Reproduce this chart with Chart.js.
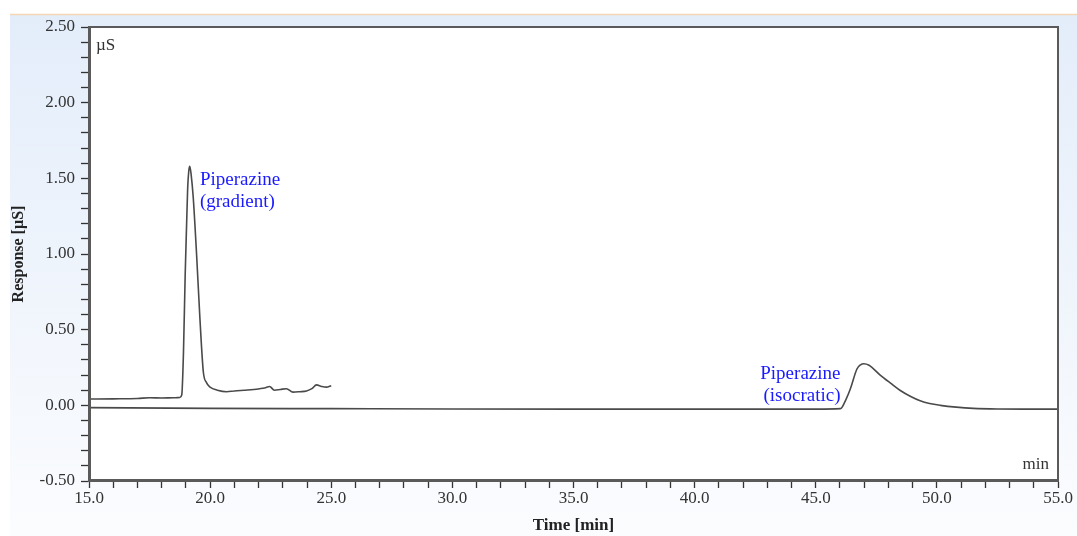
<html>
<head>
<style>
    body { margin: 0; background: #ffffff; }
    #wrap { width: 1077px; height: 536px; }
</style>
</head>
<body>
<div id="wrap">
    <canvas id="chromChart" width="1077" height="536"></canvas>
</div>
<script src="https://cdn.jsdelivr.net/npm/chart.js"></script>

<script>
    // gradient run (15 - 25 min)
    const gradTime = [15.0, 16.0, 17.0, 17.5, 18.0, 18.5, 18.75, 18.83, 18.9, 18.97, 19.03, 19.07, 19.12, 19.16, 19.22, 19.3, 19.44, 19.58, 19.72, 19.85, 20.0, 20.3, 20.68, 21.0, 21.4, 21.8, 22.05, 22.25, 22.46, 22.65, 22.9, 23.15, 23.42, 23.7, 23.98, 24.2, 24.39, 24.6, 24.8, 25.0];
    const gradResp = [0.042, 0.043, 0.045, 0.05, 0.048, 0.05, 0.052, 0.07, 0.35, 0.86, 1.2, 1.42, 1.55, 1.58, 1.52, 1.38, 1.0, 0.57, 0.22, 0.15, 0.12, 0.1, 0.09, 0.095, 0.1, 0.105, 0.11, 0.115, 0.124, 0.1, 0.105, 0.11, 0.087, 0.09, 0.095, 0.11, 0.135, 0.125, 0.12, 0.13];

    // isocratic run (15 - 55 min)
    const isoTime = [15.0, 20.0, 25.0, 30.0, 35.0, 40.0, 45.0, 46.02, 46.25, 46.43, 46.7, 46.85, 46.98, 47.2, 47.66, 48.1, 48.49, 48.9, 49.31, 49.7, 50.14, 50.8, 51.5, 52.5, 54.0, 55.0];
    const isoResp = [-0.015, -0.02, -0.022, -0.024, -0.025, -0.025, -0.025, -0.022, 0.04, 0.11, 0.24, 0.268, 0.275, 0.265, 0.2, 0.145, 0.098, 0.06, 0.03, 0.012, 0.0, -0.012, -0.02, -0.024, -0.025, -0.025];

    const xMin = 15, xMax = 55;
    const yMin = -0.5, yMax = 2.5;

    // peak labels: [x, y, align, line1, line2]
    const peakLabels = [
        [19.58, 1.456, 'left', 'Piperazine', '(gradient)'],
        [46.02, 0.173, 'right', 'Piperazine', '(isocratic)']
    ];

    function toPoints(xs, ys) {
        return xs.map((x, i) => ({x: x, y: ys[i]}));
    }

    const serif = "'Liberation Serif', 'Times New Roman', serif";

    // light blue panel + frame + annotations
    const decor = {
        id: 'decor',
        beforeDraw(chart) {
            const ctx = chart.ctx;
            ctx.save();
            ctx.fillStyle = '#ffffff';
            ctx.fillRect(0, 0, chart.width, chart.height);
            const g = ctx.createLinearGradient(0, 14, 0, chart.height);
            g.addColorStop(0, '#e3edfa');
            g.addColorStop(1, '#fbfcfe');
            ctx.fillStyle = g;
            ctx.fillRect(10, 14, chart.width - 10, chart.height - 14);
            ctx.strokeStyle = '#f3d6b4';
            ctx.lineWidth = 1.5;
            ctx.beginPath();
            ctx.moveTo(10, 14.5);
            ctx.lineTo(chart.width, 14.5);
            ctx.stroke();
            const a = chart.chartArea;
            ctx.fillStyle = '#ffffff';
            ctx.fillRect(a.left, a.top, a.right - a.left, a.bottom - a.top);
            ctx.restore();
        },
        afterDraw(chart) {
            const ctx = chart.ctx;
            const a = chart.chartArea;
            const xs = chart.scales.x, ys = chart.scales.y;
            ctx.save();
            ctx.strokeStyle = '#5a5a5a';
            ctx.lineWidth = 2;
            ctx.strokeRect(a.left + 1, a.top, a.right - a.left - 1, a.bottom - a.top - 1);
            ctx.font = '17px ' + serif;
            ctx.fillStyle = '#333333';
            ctx.textBaseline = 'alphabetic';
            ctx.textAlign = 'left';
            ctx.fillText('\u00b5S', a.left + 7, a.top + 23);
            ctx.textAlign = 'right';
            ctx.fillText('min', a.right - 9, a.bottom - 12);
            ctx.font = '19px ' + serif;
            ctx.fillStyle = '#1a1aff';
            peakLabels.forEach(p => {
                const px = xs.getPixelForValue(p[0]);
                const py = ys.getPixelForValue(p[1]);
                ctx.textAlign = p[2];
                ctx.fillText(p[3], px, py);
                ctx.fillText(p[4], px, py + 22);
            });
            ctx.restore();
        }
    };

    const tickFont = {family: serif, size: 17};

    const config = {
        type: 'scatter',
        data: {
            datasets: [{
                label: 'isocratic',
                data: toPoints(isoTime, isoResp),
                showLine: true,
                borderColor: '#4a4a4a',
                borderWidth: 1.6,
                pointRadius: 0,
                cubicInterpolationMode: 'monotone'
            }, {
                label: 'gradient',
                data: toPoints(gradTime, gradResp),
                showLine: true,
                borderColor: '#4a4a4a',
                borderWidth: 1.6,
                pointRadius: 0,
                cubicInterpolationMode: 'monotone'
            }]
        },
        options: {
            responsive: false,
            animation: false,
            layout: {padding: {top: 27, right: 19, left: 0, bottom: 0}},
            plugins: {legend: {display: false}, tooltip: {enabled: false}},
            scales: {
                x: {
                    type: 'linear',
                    min: xMin,
                    max: xMax,
                    afterFit(s) { s.height = 55; },
                    afterBuildTicks(s) {
                        const t = [];
                        for (let v = xMin; v <= xMax; v++) t.push({value: v});
                        s.ticks = t;
                    },
                    ticks: {
                        autoSkip: false,
                        maxRotation: 0,
                        color: '#333333',
                        font: tickFont,
                        padding: 0,
                        callback: v => (v % 5 === 0 ? v.toFixed(1) : '')
                    },
                    grid: {drawOnChartArea: false, tickLength: 7, color: '#333333', tickWidth: 1.3},
                    border: {display: true, color: '#5a5a5a', width: 2},
                    title: {
                        display: true,
                        text: 'Time [min]',
                        color: '#222222',
                        font: {family: serif, size: 17, weight: 'bold'},
                        padding: {top: 0, bottom: 0}
                    }
                },
                y: {
                    type: 'linear',
                    min: yMin,
                    max: yMax,
                    afterFit(s) { s.width = 89; },
                    afterBuildTicks(s) {
                        const t = [];
                        for (let k = -5; k <= 25; k++) t.push({value: k / 10});
                        s.ticks = t;
                    },
                    ticks: {
                        autoSkip: false,
                        color: '#333333',
                        font: tickFont,
                        padding: 6,
                        callback: v => (Math.round(v * 10) % 5 === 0 ? v.toFixed(2) : '')
                    },
                    grid: {drawOnChartArea: false, tickLength: 8, color: '#333333', tickWidth: 1.3},
                    border: {display: true, color: '#5a5a5a', width: 2},
                    title: {
                        display: true,
                        text: 'Response [\u00b5S]',
                        color: '#222222',
                        font: {family: serif, size: 16, weight: 'bold'},
                        padding: {top: 9, bottom: 0}
                    }
                }
            }
        },
        plugins: [decor]
    };

    const chromChart = new Chart(document.getElementById('chromChart').getContext('2d'), config);
</script>
</body>
</html>
